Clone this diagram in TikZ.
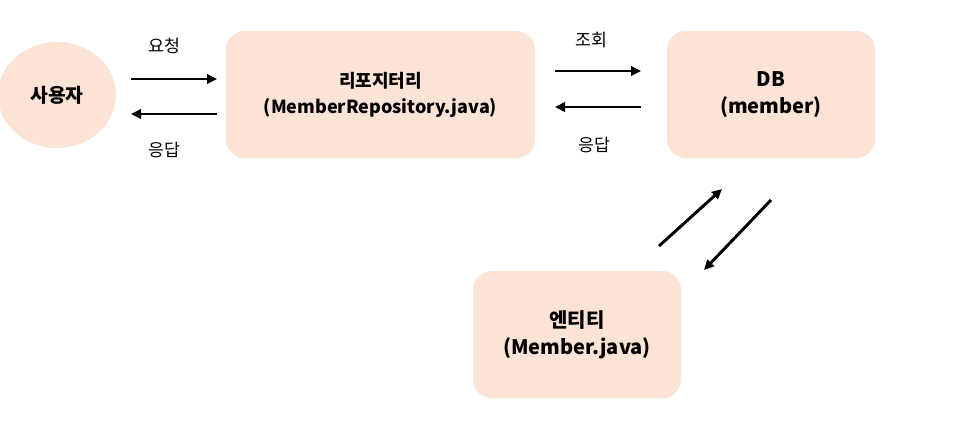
\documentclass[tikz,border=0pt]{standalone}
\usepackage{fontspec}
\setmainfont{Noto Sans CJK KR}
\usepackage{xcolor}
\definecolor{cFill}{HTML}{FBE3D6}
\definecolor{cLine}{HTML}{000000}
\usepackage{tikz}
\usetikzlibrary{positioning,arrows.meta,calc,shapes.geometric}
\tikzset{
  node-box/.style={fill=cFill,rounded corners=14pt,minimum height=95.25pt,
    minimum width=156pt,align=center,inner sep=0pt,
    font=\bfseries\fontsize{15}{20.5}\selectfont},
  node-wide/.style={minimum width=231.75pt,
    font=\bfseries\fontsize{13.5}{19.5}\selectfont},
  node-user/.style={fill=cFill,ellipse,minimum width=88.5pt,minimum height=79.5pt,
    inner sep=0pt,font=\bfseries\fontsize{14.5}{20}\selectfont},
  node-label/.style={font=\fontsize{13}{15}\selectfont,inner sep=0pt},
  arrow/.style={-{Triangle[length=7.5pt,width=7pt]},line width=2.2pt,draw=cLine},
}

\begin{document}
\begin{tikzpicture}[x=0.75pt,y=-0.75pt]
  \useasboundingbox (0,0) rectangle (967,433);
  \node[node-user]                     (user) at (57,95) {사용자};
  \node[node-box,node-wide]            (repo) at (380.5,94.5)
    {리포지터리\\(MemberRepository.java)};
  \node[node-box]                      (db) at (771,94.5) {DB\\(member)};
  \node[node-box]                      (entity) at (577,334.5)
    {엔티티\\(Member.java)};
  % 사용자 <-> 리포지터리
  \coordinate (req-a) at (131,79);
  \coordinate (req-b) at (217,79);
  \coordinate (res-a) at (217,114);
  \coordinate (res-b) at (131,114);
  \node[node-label] (req-lbl) at (164,46) {요청};
  \node[node-label] (res-lbl) at (164,150) {응답};
  \draw[arrow] (req-a) -- (req-b);
  \draw[arrow] (res-a) -- (res-b);
  % 리포지터리 <-> DB
  \coordinate (qry-a) at (555,71);
  \coordinate (qry-b) at (641,71);
  \coordinate (ans-a) at (641,107);
  \coordinate (ans-b) at (555,107);
  \node[node-label] (qry-lbl) at (591,40) {조회};
  \node[node-label] (ans-lbl) at (594,145) {응답};
  \draw[arrow] (qry-a) -- (qry-b);
  \draw[arrow] (ans-a) -- (ans-b);
  % 엔티티 <-> DB
  \coordinate (up-a) at (659,246);
  \coordinate (up-b) at (722,189);
  \coordinate (dn-a) at (771,200);
  \coordinate (dn-b) at (704,270);
  \draw[arrow] (up-a) -- (up-b);
  \draw[arrow] (dn-a) -- (dn-b);
\end{tikzpicture}
\end{document}
